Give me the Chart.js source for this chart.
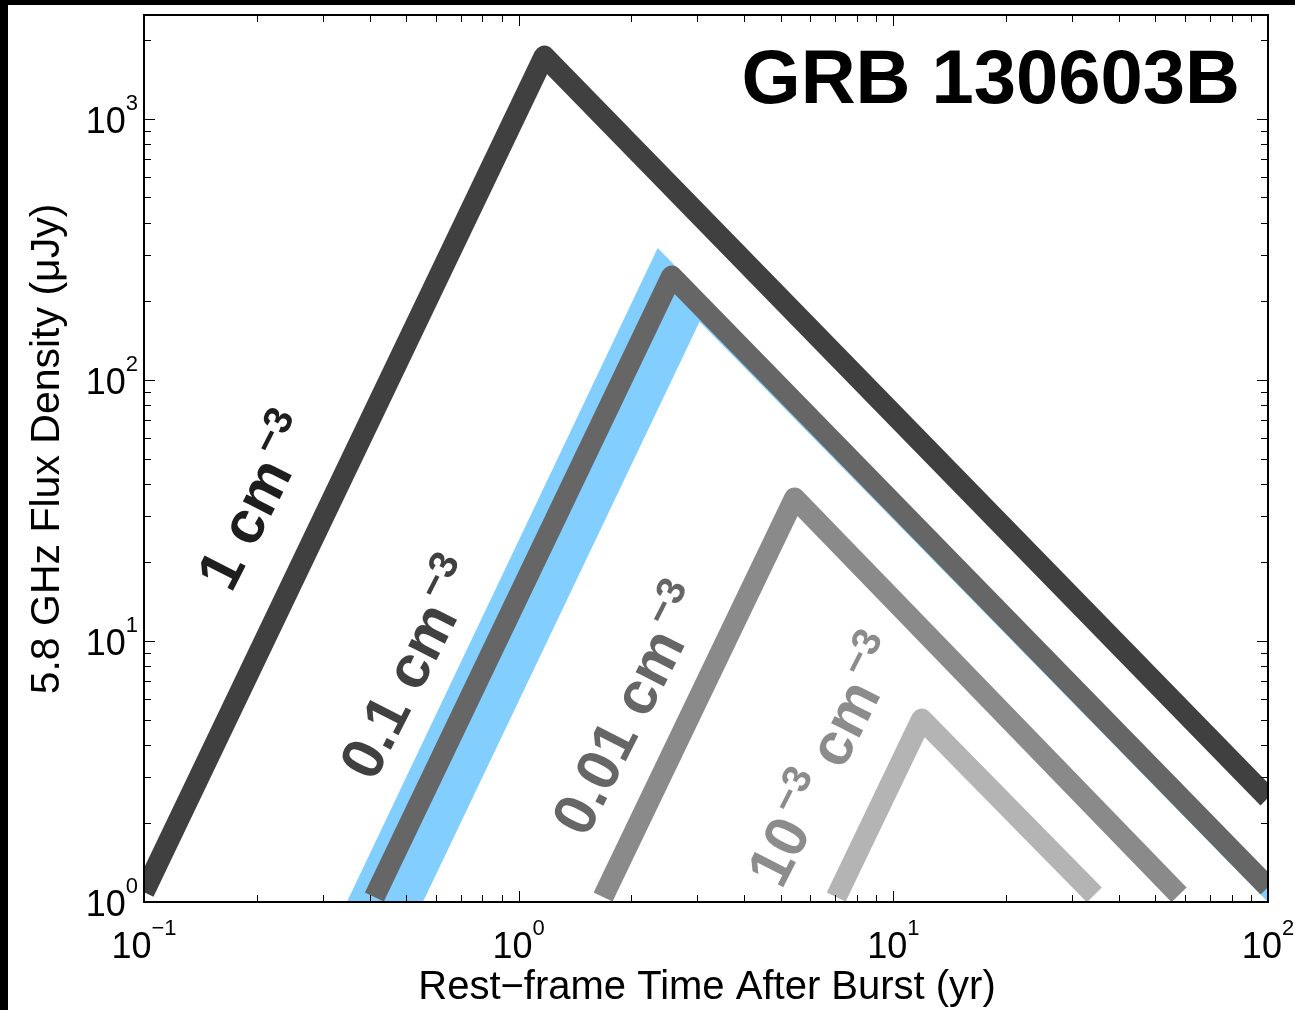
<!DOCTYPE html>
<html>
<head>
<meta charset="utf-8">
<script src="https://cdn.jsdelivr.net/npm/chart.js@4.4.1/dist/chart.umd.min.js"></script>
<style>
  html, body { margin: 0; padding: 0; background: #fff; }
  canvas { display: block; }
</style>
</head>
<body>
<canvas id="myChart" width="1295" height="1010"></canvas>
<script>
// axis limits and tick labels
const xMin = 0.1, xMax = 100;
const yMin = 1, yMax = 2500;
const xMajor = [0.1, 1, 10, 100];
const yMajor = [1, 10, 100, 1000];

// light curves (time in yr, flux in uJy)
const t_n1 = [0.1, 1.17, 100];
const f_n1 = [1.09, 1740, 2.5];
const t_n01 = [0.412, 2.56, 100];
const f_n01 = [1.045, 250, 1.14];
const t_n001 = [1.68, 5.45, 57.9];
const f_n001 = [1.045, 35.3, 1.065];
const t_n0001 = [7.04, 11.9, 34.4];
const f_n0001 = [1.045, 5.02, 1.065];

// light blue band (upper and lower edges)
const t_bandHi = [0.348, 2.35, 100];
const f_bandHi = [1.0, 320, 1.29];
const t_bandLo = [0.348, 3.04, 100];
const f_bandLo = [0.245, 167, 1.0];

const densityLabels = [
  { parts: [["1 cm", 0], ["\u22123", 1]], x: 0.198, y: 34.4, color: "#1e1e1e" },
  { parts: [["0.1 cm", 0], ["\u22123", 1]], x: 0.51, y: 7.9, color: "#404040" },
  { parts: [["0.01 cm", 0], ["\u22123", 1]], x: 1.97, y: 5.5, color: "#666666" },
  { parts: [["10", 0], ["\u22123", 1], [" cm", 0], ["\u22123", 1]], x: 6.55, y: 3.5, color: "#8c8c8c" },
];

function pts(xs, ys) {
  return xs.map((v, i) => ({ x: v, y: ys[i] }));
}

function line(label, xs, ys, color, order) {
  return {
    label: label,
    data: pts(xs, ys),
    showLine: true,
    borderColor: color,
    borderWidth: 21,
    borderCapStyle: "butt",
    borderJoinStyle: "round",
    pointRadius: 0,
    fill: false,
    clip: 0,
    order: order,
  };
}

const frame = {
  id: "frame",
  beforeDraw(chart) {
    const ctx = chart.ctx;
    ctx.save();
    ctx.fillStyle = "#fff";
    ctx.fillRect(0, 0, chart.width, chart.height);
    ctx.fillStyle = "#000";
    ctx.fillRect(0, 0, chart.width, 5);
    ctx.fillRect(0, 0, 8, chart.height);
    ctx.restore();
  },
  afterDraw(chart) {
    const { ctx, chartArea: a } = chart;
    const xs = chart.scales.x, ys = chart.scales.y;
    ctx.save();
    ctx.strokeStyle = "#000";
    ctx.lineWidth = 1;
    // minor + major ticks, pointing inwards, on all four sides
    for (let d = -1; d <= 2; d++) {
      for (let k = 1; k <= 9; k++) {
        const v = k * Math.pow(10, d);
        if (v < xMin || v > xMax) continue;
        const px = Math.round(xs.getPixelForValue(v)) + 0.5;
        const len = k === 1 ? 11 : 7;
        ctx.beginPath();
        ctx.moveTo(px, a.bottom);
        ctx.lineTo(px, a.bottom - len);
        ctx.moveTo(px, a.top);
        ctx.lineTo(px, a.top + len);
        ctx.stroke();
      }
    }
    for (let d = 0; d <= 3; d++) {
      for (let k = 1; k <= 9; k++) {
        const v = k * Math.pow(10, d);
        if (v < yMin || v > yMax) continue;
        const py = Math.round(ys.getPixelForValue(v)) + 0.5;
        const len = k === 1 ? 11 : 7;
        ctx.beginPath();
        ctx.moveTo(a.left, py);
        ctx.lineTo(a.left + len, py);
        ctx.moveTo(a.right, py);
        ctx.lineTo(a.right - len, py);
        ctx.stroke();
      }
    }
    ctx.lineWidth = 2;
    ctx.strokeRect(a.left, a.top, a.right - a.left, a.bottom - a.top);

    // tick labels 10^n
    const base = "36px 'Liberation Sans', Arial, sans-serif";
    const sup = "22px 'Liberation Sans', Arial, sans-serif";
    ctx.fillStyle = "#000";
    ctx.textBaseline = "alphabetic";
    ctx.textAlign = "left";
    xMajor.forEach((v) => {
      const e = Math.round(Math.log10(v));
      const es = e < 0 ? "\u2212" + (-e) : String(e);
      ctx.font = base;
      const w1 = ctx.measureText("10").width;
      ctx.font = sup;
      const w2 = ctx.measureText(es).width;
      const px = xs.getPixelForValue(v);
      const x0 = px - (w1 + w2) / 2;
      ctx.font = base;
      ctx.fillText("10", x0, a.bottom + 56);
      ctx.font = sup;
      ctx.fillText(es, x0 + w1, a.bottom + 33);
    });
    yMajor.forEach((v) => {
      const e = Math.round(Math.log10(v));
      const es = String(e);
      ctx.font = base;
      const w1 = ctx.measureText("10").width;
      ctx.font = sup;
      const w2 = ctx.measureText(es).width;
      const py = ys.getPixelForValue(v);
      const x0 = a.left - 6 - w1 - w2;
      ctx.font = base;
      ctx.fillText("10", x0, py + 14);
      ctx.font = sup;
      ctx.fillText(es, x0 + w1, py - 9);
    });

    // axis titles
    ctx.font = "40px 'Liberation Sans', Arial, sans-serif";
    ctx.textAlign = "center";
    ctx.fillText("Rest\u2212frame Time After Burst (yr)", 707, 999);
    ctx.save();
    ctx.translate(59, 449);
    ctx.rotate(-Math.PI / 2);
    ctx.font = "41px 'Liberation Sans', Arial, sans-serif";
    ctx.fillText("5.8 GHz Flux Density (\u03bcJy)", 0, 0);
    ctx.restore();

    // panel title
    ctx.font = "bold 76px 'Liberation Sans', Arial, sans-serif";
    ctx.textAlign = "right";
    ctx.fillText("GRB 130603B", 1240, 103);

    // density labels along the curves
    const big = "bold 60px 'Liberation Sans', Arial, sans-serif";
    const small = "bold 40px 'Liberation Sans', Arial, sans-serif";
    densityLabels.forEach((lab) => {
      let total = 0;
      const widths = lab.parts.map(([s, isSup]) => {
        ctx.font = isSup ? small : big;
        const w = ctx.measureText(s).width + (isSup ? 5 : 0);
        total += w;
        return w;
      });
      ctx.save();
      ctx.translate(xs.getPixelForValue(lab.x), ys.getPixelForValue(lab.y));
      ctx.rotate((-63 * Math.PI) / 180);
      ctx.fillStyle = lab.color;
      ctx.textAlign = "left";
      let cx = -total / 2;
      lab.parts.forEach(([s, isSup], i) => {
        ctx.font = isSup ? small : big;
        ctx.fillText(s, cx + (isSup ? 5 : 0), isSup ? -3 : 21);
        cx += widths[i];
      });
      ctx.restore();
    });
    ctx.restore();
  },
};

const ctx = document.getElementById("myChart");
window.myChart = new Chart(ctx, {
  type: "scatter",
  data: {
    datasets: [
      line("1 cm-3", t_n1, f_n1, "#404040", 1),
      line("0.1 cm-3", t_n01, f_n01, "#666666", 1),
      line("0.01 cm-3", t_n001, f_n001, "#8a8a8a", 1),
      line("1e-3 cm-3", t_n0001, f_n0001, "#b4b4b4", 1),
      {
        label: "band",
        data: pts(t_bandHi, f_bandHi),
        showLine: true,
        borderWidth: 0,
        borderColor: "rgba(0,0,0,0)",
        backgroundColor: "#82cfff",
        pointRadius: 0,
        fill: "+1",
        clip: 0,
        order: 5,
      },
      {
        label: "band lower",
        data: pts(t_bandLo, f_bandLo),
        showLine: true,
        borderWidth: 0,
        borderColor: "rgba(0,0,0,0)",
        pointRadius: 0,
        fill: false,
        clip: 0,
        order: 6,
      },
    ],
  },
  options: {
    responsive: false,
    animation: false,
    events: [],
    layout: { padding: { left: 144, top: 15, right: 27, bottom: 108 } },
    plugins: { legend: { display: false }, tooltip: { enabled: false } },
    scales: {
      x: { type: "logarithmic", min: xMin, max: xMax, display: false },
      y: { type: "logarithmic", min: yMin, max: yMax, display: false },
    },
  },
  plugins: [frame],
});
</script>
</body>
</html>
